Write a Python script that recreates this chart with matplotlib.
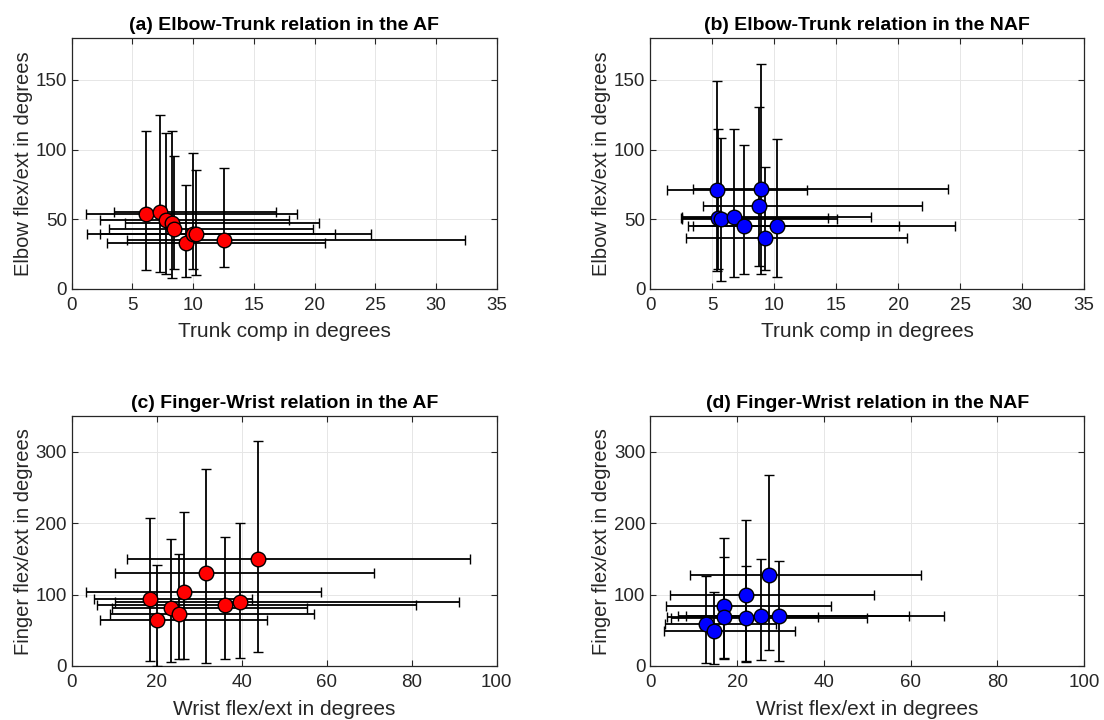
import numpy as np
import matplotlib
matplotlib.use('Agg')
import matplotlib.pyplot as plt

plt.rcParams['font.family'] = ['Liberation Sans', 'DejaVu Sans']

# (a) Elbow-Trunk, AF
a_x = [6.14, 7.29, 7.74, 8.24, 8.46, 9.39, 10.0, 10.19, 12.55]
a_y = [54.0, 55.2, 49.2, 47.2, 42.7, 32.9, 39.6, 39.1, 34.8]
a_x_lo = [1.14, 3.46, 2.34, 4.41, 3.09, 2.93, 1.28, 2.34, 4.52]
a_x_hi = [18.51, 16.78, 17.85, 20.4, 19.85, 20.84, 21.65, 24.65, 32.37]
a_y_lo = [13.2, 12.0, 10.8, 7.9, 14.4, 8.4, 14.4, 10.1, 15.6]
a_y_hi = [113.2, 124.7, 112.0, 113.2, 95.2, 74.3, 97.6, 85.1, 86.8]

# (b) Elbow-Trunk, NAF
b_x = [5.38, 5.44, 5.73, 6.79, 7.59, 8.75, 8.97, 9.23, 10.24]
b_y = [70.7, 50.8, 50.4, 51.6, 44.8, 59.5, 71.5, 36.5, 45.1]
b_x_lo = [1.35, 2.47, 2.6, 2.55, 3.08, 4.27, 3.47, 2.92, 3.45]
b_x_hi = [12.63, 14.33, 15.1, 17.8, 20.1, 21.89, 24.04, 20.7, 24.6]
b_y_lo = [12.7, 13.9, 5.5, 8.4, 10.3, 16.3, 10.3, 13.2, 8.4]
b_y_hi = [149.5, 115.1, 108.4, 115.1, 103.6, 130.7, 161.5, 87.1, 107.9]

# (c) Finger-Wrist, AF
c_x = [18.45, 20.1, 23.3, 25.2, 26.4, 31.5, 36.1, 39.6, 43.9]
c_y = [93.3, 63.8, 80.6, 73.1, 103.6, 130.8, 85.3, 90.0, 149.6]
c_x_lo = [5.3, 6.6, 9.4, 8.9, 3.4, 10.1, 6.0, 10.1, 13.1]
c_x_hi = [42.5, 45.9, 55.3, 56.9, 58.7, 71.2, 80.9, 91.1, 93.6]
c_y_lo = [7.0, 0.0, 5.2, 9.8, 9.8, 4.2, 9.8, 11.3, 19.2]
c_y_hi = [207.2, 141.6, 177.7, 156.6, 215.2, 275.7, 181.4, 200.7, 315.0]

# (d) Finger-Wrist, NAF
d_x = [12.8, 14.8, 17.0, 17.0, 22.1, 22.0, 25.5, 27.4, 29.6]
d_y = [58.6, 48.8, 84.5, 68.9, 99.5, 67.0, 69.4, 127.1, 69.4]
d_x_lo = [3.3, 3.1, 3.7, 3.9, 4.6, 4.8, 6.5, 9.2, 8.3]
d_x_hi = [29.0, 33.3, 41.7, 38.7, 51.6, 50.0, 59.6, 62.4, 67.8]
d_y_lo = [4.2, 2.8, 9.4, 11.3, 7.0, 5.6, 8.0, 22.0, 6.6]
d_y_hi = [126.6, 103.1, 179.1, 152.3, 204.9, 140.6, 150.5, 267.7, 147.2]

panels = [
    (a_x, a_y, a_x_lo, a_x_hi, a_y_lo, a_y_hi, 'red', '(a) Elbow-Trunk relation in the AF',
     'Trunk comp in degrees', 'Elbow flex/ext in degrees', 35, 180, 5, 50),
    (b_x, b_y, b_x_lo, b_x_hi, b_y_lo, b_y_hi, 'blue', '(b) Elbow-Trunk relation in the NAF',
     'Trunk comp in degrees', 'Elbow flex/ext in degrees', 35, 180, 5, 50),
    (c_x, c_y, c_x_lo, c_x_hi, c_y_lo, c_y_hi, 'red', '(c) Finger-Wrist relation in the AF',
     'Wrist flex/ext in degrees', 'Finger flex/ext in degrees', 100, 350, 20, 100),
    (d_x, d_y, d_x_lo, d_x_hi, d_y_lo, d_y_hi, 'blue', '(d) Finger-Wrist relation in the NAF',
     'Wrist flex/ext in degrees', 'Finger flex/ext in degrees', 100, 350, 20, 100),
]

positions = [[0.065, 0.599, 0.385, 0.348],
             [0.589, 0.599, 0.393, 0.348],
             [0.065, 0.075, 0.385, 0.347],
             [0.589, 0.075, 0.393, 0.347]]

fig = plt.figure(figsize=(11.04, 7.2), dpi=100)
dark = '#262626'

for pos, p in zip(positions, panels):
    x, y, xlo, xhi, ylo, yhi, col, title, xlab, ylab, xmax, ymax, xstep, ystep = p
    x = np.array(x); y = np.array(y)
    xerr = [x - np.array(xlo), np.array(xhi) - x]
    yerr = [y - np.array(ylo), np.array(yhi) - y]
    ax = fig.add_axes(pos)
    ax.errorbar(x, y, xerr=xerr, yerr=yerr, fmt='o', color='black', ecolor='black',
                elinewidth=1.3, capsize=3.5, capthick=1.3, markersize=10.5,
                markerfacecolor=col, markeredgecolor='black', markeredgewidth=1.0, zorder=3)
    ax.set_xlim(0, xmax)
    ax.set_ylim(0, ymax)
    ax.set_xticks(np.arange(0, xmax + 0.1, xstep))
    ax.set_yticks(np.arange(0, ymax, ystep))
    ax.grid(True, color='#e6e6e6', linewidth=0.7)
    ax.set_axisbelow(True)
    ax.tick_params(direction='in', top=True, right=True, length=4, labelsize=13.5,
                   colors=dark, labelcolor=dark)
    ax.tick_params(axis='x', pad=6)
    for s in ax.spines.values():
        s.set_color(dark)
        s.set_linewidth(0.9)
    ax.set_title(title, fontsize=14, fontweight='bold', pad=6)
    ax.set_xlabel(xlab, fontsize=15, color=dark, labelpad=6)
    ax.set_ylabel(ylab, fontsize=14.5, color=dark, labelpad=2)

fig.savefig('out.png', dpi=100)
